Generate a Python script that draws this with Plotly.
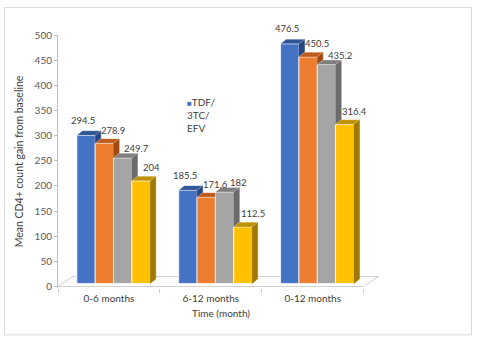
import plotly.graph_objects as go

# ---------------- data ----------------
periods = ["0-6 months", "6-12 months", "0-12 months"]
series_names = ["TDF/3TC/EFV", "Series 2", "Series 3", "Series 4"]
s1 = [294.5, 185.5, 476.5]
s2 = [278.9, 171.6, 450.5]
s3 = [249.7, 182, 435.2]
s4 = [204, 112.5, 316.4]
y_tick_vals = [0, 50, 100, 150, 200, 250, 300, 350, 400, 450, 500]
y_title = "Mean CD4+ count gain from baseline"
x_title = "Time (month)"
legend_label = "TDF/<br>3TC/<br>EFV"

series = [s1, s2, s3, s4]

# ---------------- style ----------------
front_cols = ["#4472c4", "#ed7d31", "#a5a5a5", "#ffc000"]
top_cols = ["#2f5597", "#c0591c", "#7f7f7f", "#bf9000"]
side_cols = ["#264780", "#a04a12", "#6b6b6b", "#a07900"]
FONT = "Lato"
TXT = "#404040"

W_FIG, H_FIG = 477, 343
L, R, T, B = 58, 93, 35, 54.5
PW, PH = W_FIG - L - R, H_FIG - T - B
XR = [-0.5, 2.7]
YR = [-3, 500]

BAR_W = 0.18
GROUP_SHIFT = 0.045
BASE = 6
DX, DY = 0.055, 9          # 3D depth in axis units
FLOOR_DX, FLOOR_DY = 0.147, 20
label_xshift = [-3, 9, 14, 10]
label_yshift = [15, 13, 9, 13]


def pxx(px):
    return (px - L) / PW


def pxy(py):
    return 1 - (py - T) / PH


fig = go.Figure()

centers = []
for j, vals in enumerate(series):
    cx = [i + GROUP_SHIFT + (j - 1.5) * BAR_W for i in range(len(periods))]
    centers.append(cx)
    fig.add_trace(go.Bar(
        x=cx, y=vals, base=BASE, width=BAR_W, name=series_names[j],
        marker=dict(color=front_cols[j], line=dict(color="rgba(255,255,255,0.75)", width=1)),
        showlegend=False,
    ))

# 3D side and top faces computed from the values
for j, vals in enumerate(series):
    sx, sy, tx, ty = [], [], [], []
    for i, v in enumerate(vals):
        c = centers[j][i]
        x0, x1 = c - BAR_W / 2, c + BAR_W / 2
        top = BASE + v
        nxt = series[j + 1][i] if j < len(series) - 1 else None
        bottom = BASE if nxt is None else BASE + nxt
        if top > bottom:
            sx += [x1, x1 + DX, x1 + DX, x1, x1, None]
            sy += [bottom, bottom + DY, top + DY, top, bottom, None]
        right = x1 + DX
        if nxt is not None and nxt > v:
            right = x1
        tx += [x0, x0 + DX, right, x1, x0, None]
        ty += [top, top + DY, top + DY, top, top, None]
    fig.add_trace(go.Scatter(x=sx, y=sy, mode="lines", fill="toself",
                             fillcolor=side_cols[j], line=dict(width=0.5, color=side_cols[j]),
                             hoverinfo="skip", showlegend=False))
    fig.add_trace(go.Scatter(x=tx, y=ty, mode="lines", fill="toself",
                             fillcolor=top_cols[j], line=dict(width=0.5, color="rgba(255,255,255,0.5)"),
                             hoverinfo="skip", showlegend=False))

# value labels
for j, vals in enumerate(series):
    for i, v in enumerate(vals):
        fig.add_annotation(x=centers[j][i], y=BASE + v, text=f"{v:g}", showarrow=False,
                           xshift=label_xshift[j], yshift=label_yshift[j],
                           font=dict(family=FONT, size=9.5, color=TXT))

# floor (3D base)
n = len(periods)
fl = dict(color="#d0d0d0", width=1)
x_left, x_right = -0.5, n - 0.5
fig.add_shape(type="line", xref="x", yref="y", x0=x_left, y0=0, x1=x_right, y1=0, line=fl, layer="below")
fig.add_shape(type="line", xref="x", yref="y", x0=x_left, y0=0, x1=x_left + FLOOR_DX, y1=FLOOR_DY, line=fl, layer="below")
fig.add_shape(type="line", xref="x", yref="y", x0=x_right, y0=0, x1=x_right + FLOOR_DX, y1=FLOOR_DY, line=fl, layer="below")
fig.add_shape(type="line", xref="x", yref="y", x0=x_left + FLOOR_DX, y0=FLOOR_DY, x1=x_right + FLOOR_DX, y1=FLOOR_DY, line=fl, layer="below")

# chart border
fig.add_shape(type="rect", xref="paper", yref="paper", x0=pxx(4.5), y0=pxy(335.5), x1=pxx(471.5), y1=pxy(7.5),
              line=dict(color="#d9d9d9", width=1), fillcolor="rgba(0,0,0,0)", layer="below")

# legend (only the first entry is visible in the original)
fig.add_annotation(xref="paper", yref="paper", x=pxx(185), y=pxy(94), xanchor="left", yanchor="top",
                   align="left", showarrow=False,
                   text=f"<span style='color:{front_cols[0]};font-size:8px'>■</span>" + legend_label,
                   font=dict(family=FONT, size=10, color=TXT))

fig.update_layout(
    width=W_FIG, height=H_FIG,
    margin=dict(l=L, r=R, t=T, b=B, autoexpand=False),
    paper_bgcolor="white", plot_bgcolor="white",
    barmode="overlay",
    font=dict(family=FONT, size=10, color=TXT),
    hovermode=False,
)
fig.update_xaxes(
    range=XR, tickmode="array", tickvals=list(range(n)), ticktext=periods,
    showgrid=False, zeroline=False, showline=False, ticks="",
    tickfont=dict(family=FONT, size=10, color=TXT), ticklabelstandoff=3,
    minor=dict(tickmode="array", tickvals=[k - 0.5 for k in range(n + 1)], ticks="outside",
               ticklen=4, tickcolor="#d0d0d0", showgrid=False),
    title=dict(text=x_title, font=dict(family=FONT, size=10, color=TXT), standoff=6),
    fixedrange=True,
)
fig.update_yaxes(
    range=YR, tickmode="array", tickvals=y_tick_vals,
    showgrid=False, zeroline=False, showline=True, linecolor="#bfbfbf", linewidth=1,
    ticks="outside", ticklen=3, tickcolor="#bfbfbf",
    tickfont=dict(family=FONT, size=10, color="#595959"),
    title=dict(text=y_title, font=dict(family=FONT, size=10.5, color=TXT), standoff=8),
    fixedrange=True,
)

fig.write_html("out.html")
